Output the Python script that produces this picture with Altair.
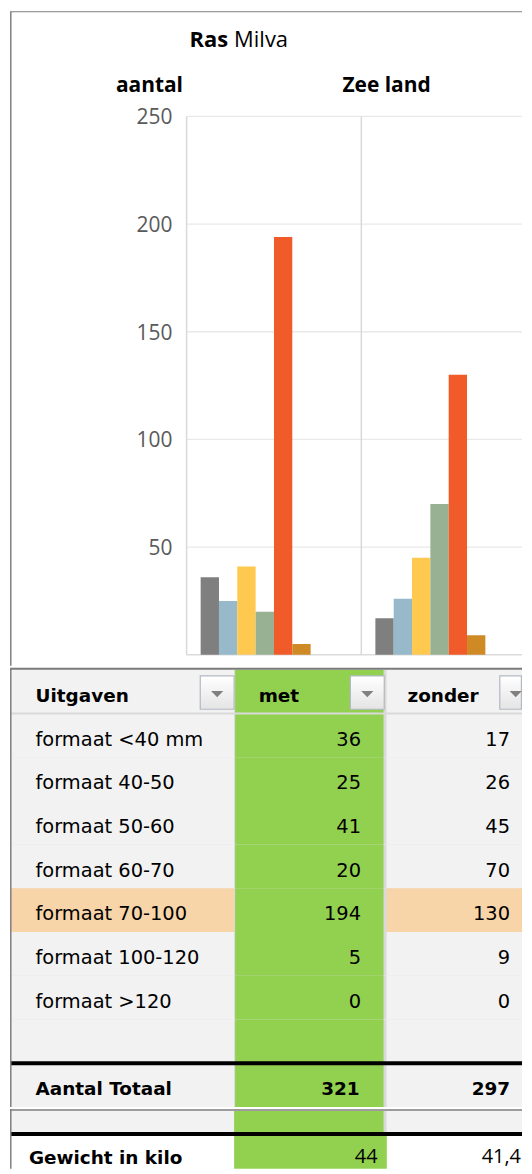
import altair as alt
import pandas as pd

# ---------------- data ----------------
formats = ["formaat <40 mm", "formaat 40-50", "formaat 50-60", "formaat 60-70",
           "formaat 70-100", "formaat 100-120", "formaat >120"]
series = ["met", "zonder"]
met_values = [36, 25, 41, 20, 194, 5, 0]
zonder_values = [17, 26, 45, 70, 130, 9, 0]
totals = [321, 297]
weights = ["44", "41,4"]
y_ticks = [50, 100, 150, 200, 250]
header = ["Uitgaven", "met", "zonder"]
total_label = "Aantal Totaal"
weight_label = "Gewicht in kilo"
highlight = "formaat 70-100"
title_bold, title_rest = "Ras", "Milva"
axis_title, group_title = "aantal", "Zee land"

# ---------------- styles ----------------
bar_colors = ["#7F7F7F", "#97B9CA", "#FFC94F", "#98B193", "#F15A29", "#CF8A26", "#5B9BD5"]
GRAY_BG = "#F2F2F2"
GREEN = "#92D050"
PEACH = "#F8D5A9"
SEP = "#D9D9D9"
BORDER = "#7F7F7F"
TABLE_FONT = "DejaVu Sans"
CHART_FONT = "Open Sans"
BODY_SIZE = 19.5
BOLD_SIZE = 18.5

W = 516
H_TOP, H_A, H_B = 657, 441, 60


def text_layer(txt, x, y, size, weight="normal", align="left", font=CHART_FONT, color="#000000"):
    return alt.Chart(pd.DataFrame({"t": [txt]})).mark_text(
        align=align, baseline="alphabetic", font=font, fontSize=size,
        fontWeight=weight, color=color
    ).encode(text="t:N", x=alt.value(x), y=alt.value(y))


def hrule(y, x1, x2, color, width):
    return alt.Chart(pd.DataFrame({"k": [0]})).mark_rule(color=color, strokeWidth=width).encode(
        x=alt.value(x1), x2=alt.value(x2), y=alt.value(y))


def vrule(x, y1, y2, color, width):
    return alt.Chart(pd.DataFrame({"k": [0]})).mark_rule(color=color, strokeWidth=width).encode(
        x=alt.value(x), y=alt.value(y1), y2=alt.value(y2))


def box(x1, x2, y1, y2, fill):
    return alt.Chart(pd.DataFrame({"k": [0]})).mark_rect(fill=fill).encode(
        x=alt.value(x1), x2=alt.value(x2), y=alt.value(y1), y2=alt.value(y2))


# ---------------- top: bar chart ----------------
bar_df = pd.DataFrame({
    "reeks": [s for s in series for _ in formats],
    "formaat": formats * 2,
    "aantal": met_values + zonder_values,
})
x_scale = alt.Scale(domain=series, range=[179.3, 530.1], paddingInner=0, paddingOuter=0)
y_scale = alt.Scale(domain=[0, 250], range=[646, 105.6], nice=False)

bars = alt.Chart(bar_df).mark_bar(clip=True).encode(
    x=alt.X("reeks:N", scale=x_scale, axis=None),
    xOffset=alt.XOffset("formaat:N", scale=alt.Scale(domain=formats + [" "], paddingInner=0,
                                                       paddingOuter=0.766)),
    y=alt.Y("aantal:Q", scale=y_scale, axis=None),
    color=alt.Color("formaat:N", scale=alt.Scale(domain=formats, range=bar_colors), legend=None),
)

tick_df = pd.DataFrame({"v": y_ticks})
grid = alt.Chart(tick_df).mark_rule(color="#E9E9E9", strokeWidth=1.3).encode(
    y=alt.Y("v:Q", scale=y_scale, axis=None), x=alt.value(179.3), x2=alt.value(W))
tick_labels = alt.Chart(tick_df).mark_text(
    align="right", baseline="middle", dy=2, font=CHART_FONT, fontSize=21, color="#595959").encode(
    y=alt.Y("v:Q", scale=y_scale, axis=None), x=alt.value(165), text="v:Q")
base_line = alt.Chart(pd.DataFrame({"v": [0]})).mark_rule(color="#DCDCDC", strokeWidth=1.5).encode(
    y=alt.Y("v:Q", scale=y_scale, axis=None), x=alt.value(179.3), x2=alt.value(W))
vlines = alt.Chart(pd.DataFrame({"reeks": series})).mark_rule(color="#D9D9D9", strokeWidth=1.5).encode(
    x=alt.X("reeks:N", scale=x_scale, bandPosition=0, axis=None),
    y=alt.YDatum(0, scale=y_scale, axis=None), y2=alt.Y2Datum(250))

top = alt.layer(
    grid, base_line, vlines, bars, tick_labels,
    text_layer(title_bold, 221, 35.4, 22, "bold", align="right"),
    text_layer(title_rest, 227, 35.4, 22, "normal"),
    text_layer(axis_title, 142, 80.9, 21, "bold", align="center"),
    text_layer(group_title, 380, 80.9, 21, "bold", align="center"),
    hrule(0.5, 3, W, BORDER, 1),
    vrule(2.8, 0, H_TOP, BORDER, 1.5),
).properties(width=W, height=H_TOP)

# ---------------- table part A ----------------
rows_a = [header[0]] + formats + [" ", total_label]
y_a = alt.Scale(domain=rows_a, range=[2, H_A], paddingInner=0, paddingOuter=0)
bg_df = pd.DataFrame({"rij": rows_a,
                      "kleur": [PEACH if r == highlight else GRAY_BG for r in rows_a]})


def row_rect(x1, x2, fill_field=None, fill=None):
    if fill_field:
        return alt.Chart(bg_df).mark_rect().encode(
            y=alt.Y("rij:N", scale=y_a, axis=None), x=alt.value(x1), x2=alt.value(x2),
            fill=alt.Fill(fill_field + ":N", scale=None))
    return alt.Chart(bg_df).mark_rect(fill=fill).encode(
        y=alt.Y("rij:N", scale=y_a, axis=None), x=alt.value(x1), x2=alt.value(x2))


def row_rule(row, color, width):
    return alt.Chart(pd.DataFrame({"rij": [row]})).mark_rule(color=color, strokeWidth=width).encode(
        y=alt.Y("rij:N", scale=y_a, axis=None, bandPosition=0), x=alt.value(3), x2=alt.value(W))


grad = alt.LinearGradient(gradient="linear", x1=0, x2=0, y1=0, y2=1,
                          stops=[alt.GradientStop(color="#FFFFFF", offset=0),
                                 alt.GradientStop(color="#E4E4E4", offset=1)])
tri_shape = "M-1,-0.5L1,-0.5L0,0.5Z"


def dropdown(x1, x2, tri_x):
    btn = alt.Chart(pd.DataFrame({"k": [0]})).mark_rect(fill=grad, stroke="#B3B9C3", strokeWidth=1.2).encode(
        x=alt.value(x1), x2=alt.value(x2), y=alt.value(8.3), y2=alt.value(41.7))
    tri = alt.Chart(pd.DataFrame({"k": [0]})).mark_point(
        shape=tri_shape, filled=True, size=150, color="#808080", opacity=1).encode(
        x=alt.value(tri_x), y=alt.value(26.5))
    return btn + tri


body_df = pd.DataFrame({"rij": formats, "met": met_values, "zonder": zonder_values})
tot_df = pd.DataFrame({"rij": [total_label], "met": [totals[0]], "zonder": [totals[1]]})
head_df = pd.DataFrame({"rij": [header[0]], "met": [header[1]], "zonder": [header[2]]})


def col_text(df, field, x, align, weight, ftype="N"):
    size = BOLD_SIZE if weight == "bold" else BODY_SIZE
    return alt.Chart(df).mark_text(align=align, baseline="alphabetic", dy=10.3, font=TABLE_FONT,
                                   fontSize=size, fontWeight=weight, color="#000000").encode(
        y=alt.Y("rij:N", scale=y_a, axis=None), x=alt.value(x), text=f"{field}:{ftype}")


table_a = alt.layer(
    row_rect(3, W, fill=SEP),
    row_rect(3, 227, fill_field="kleur"),
    row_rect(228, 377, fill=GREEN),
    row_rect(380, W, fill_field="kleur"),
    row_rule(formats[0], SEP, 2),
    row_rule(total_label, "#000000", 4),
    hrule(1, 3, W, "#7A7A7A", 2),
    dropdown(193, 227, 210), dropdown(343.7, 377.7, 360.7), dropdown(493.7, W - 0.6, 509.7),
    col_text(head_df, "rij", 27.6, "left", "bold"),
    col_text(head_df, "met", 251.6, "left", "bold"),
    col_text(head_df, "zonder", 401, "left", "bold"),
    col_text(body_df, "rij", 27.6, "left", "normal"),
    col_text(body_df, "met", 354.4, "right", "normal", "Q"),
    col_text(body_df, "zonder", 504, "right", "normal", "Q"),
    col_text(tot_df, "rij", 27.6, "left", "bold"),
    col_text(tot_df, "met", 353, "right", "bold", "Q"),
    col_text(tot_df, "zonder", 504, "right", "bold", "Q"),
    vrule(2.8, 0, H_A, BORDER, 1.5),
).properties(width=W, height=H_A)

# ---------------- table part B ----------------
y_b = alt.Scale(domain=[weight_label], range=[27, 71], paddingInner=0, paddingOuter=0)
w_df = pd.DataFrame({"rij": [weight_label], "met": [weights[0]], "zonder": [weights[1]]})

green_w = alt.Chart(w_df).mark_rect(fill=GREEN, clip=True).encode(
    y=alt.Y("rij:N", scale=y_b, axis=None), x=alt.value(227), x2=alt.value(380.3))


def w_text(field, x, align, weight, font, size, dy):
    return alt.Chart(w_df).mark_text(align=align, baseline="alphabetic", dy=dy, font=font,
                                     fontSize=size, fontWeight=weight, color="#000000").encode(
        y=alt.Y("rij:N", scale=y_b, axis=None), x=alt.value(x), text=f"{field}:N")


table_b = alt.layer(
    box(3, W, 2, 23, SEP),
    box(3, 227, 2, 23, GRAY_BG),
    box(227, 377, 2, 23, GREEN),
    box(380, W, 2, 23, GRAY_BG),
    hrule(1, 3, W, "#9C9C9C", 2),
    hrule(25, 3, W, "#000000", 4),
    green_w,
    w_text("rij", 21, "left", "bold", TABLE_FONT, BOLD_SIZE, 6.0),
    w_text("met", 371, "right", "normal", CHART_FONT, 20, 5.5),
    w_text("zonder", 515, "right", "normal", CHART_FONT, 20, 5.5),
    vrule(2.8, 0, H_B, BORDER, 1.5),
).properties(width=W, height=H_B)

chart = alt.vconcat(top, table_a, table_b, spacing=0, padding=0).configure(
    font=TABLE_FONT, background="white").configure_view(stroke=None)

chart.save("out.html", embed_options={"renderer": "svg", "actions": False})
